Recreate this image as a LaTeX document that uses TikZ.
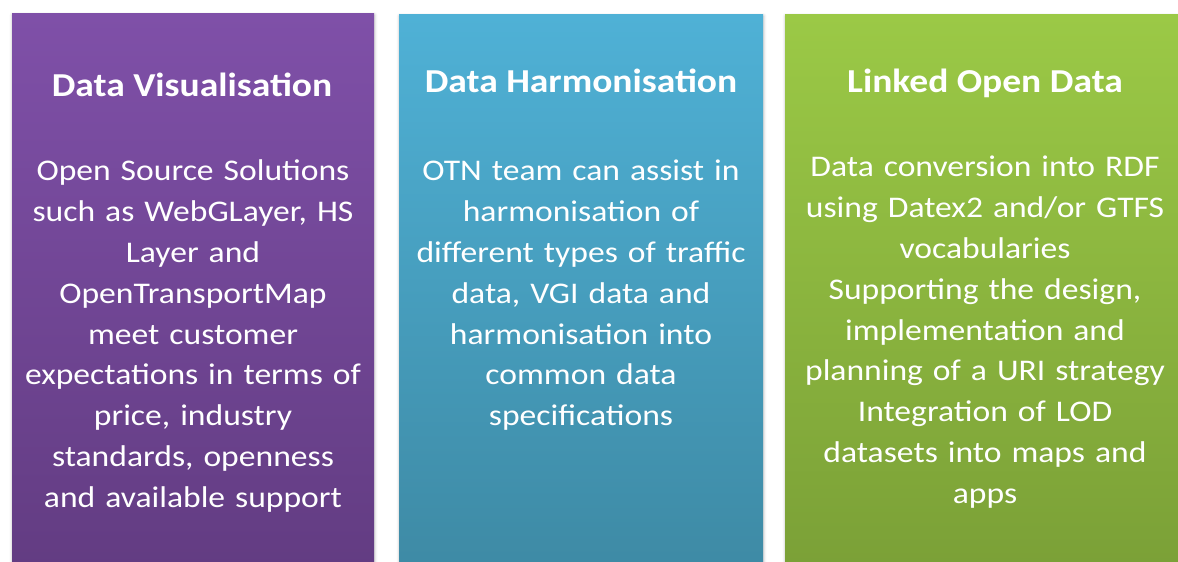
\documentclass[tikz,border=0pt]{standalone}
\usepackage{fontspec}
\setmainfont{Carlito}[FakeStretch=1.12]
\usetikzlibrary{shadows.blur}

\definecolor{visTop}{RGB}{127,80,168}
\definecolor{visBot}{RGB}{97,59,128}
\definecolor{harTop}{RGB}{79,177,214}
\definecolor{harBot}{RGB}{61,136,162}
\definecolor{lodTop}{RGB}{155,201,70}
\definecolor{lodBot}{RGB}{121,158,54}

\tikzset{
  panel/.style={blur shadow={shadow xshift=0.5bp, shadow yshift=-1bp, shadow blur radius=3bp, shadow opacity=30}},
  head/.style={anchor=base, text=white, inner sep=0pt, font=\bfseries\fontsize{33.5bp}{40bp}\selectfont},
  body/.style={anchor=base, text=white, inner sep=0pt, align=center, text width=380bp, font=\fontsize{30bp}{40.8bp}\selectfont}
}

\begin{document}
\begin{tikzpicture}[x=1bp, y=-1bp]

\useasboundingbox (0,0) rectangle (1178,562);

\coordinate (visA) at (12,14);
\coordinate (visB) at (374,600);
\coordinate (harA) at (399,15);
\coordinate (harB) at (763,600);
\coordinate (lodA) at (785,15);
\coordinate (lodB) at (1186,600);
\shade[panel, top color=visTop, bottom color=visBot] (visA) rectangle (visB);
\shade[panel, top color=harTop, bottom color=harBot] (harA) rectangle (harB);
\shade[panel, top color=lodTop, bottom color=lodBot] (lodA) rectangle (lodB);

% titles
\node[head] (visTitle) at (192,97) {Data Visualisation};
\node[head] (harTitle) at (581,93) {Data Harmonisation};
\node[head] (lodTitle) at (985,93) {Linked Open Data};

% texts
\node[body] (visText) at (193,181) {Open Source Solutions\\ such as WebGLayer, HS\\ Layer and\\ OpenTransportMap\\ meet customer\\ expectations in terms of\\ price, industry\\ standards, openness\\ and available support};
\node[body] (harText) at (581,181) {OTN team can assist in\\ harmonisation of\\ different types of traffic\\ data, VGI data and\\ harmonisation into\\ common data\\ specifications};
\node[body] (lodText) at (985,177) {Data conversion into RDF\\ using Datex2 and/or GTFS\\ vocabularies\\ Supporting the design,\\ implementation and\\ planning of a URI strategy\\ Integration of LOD\\ datasets into maps and\\ apps};

\end{tikzpicture}
\end{document}
